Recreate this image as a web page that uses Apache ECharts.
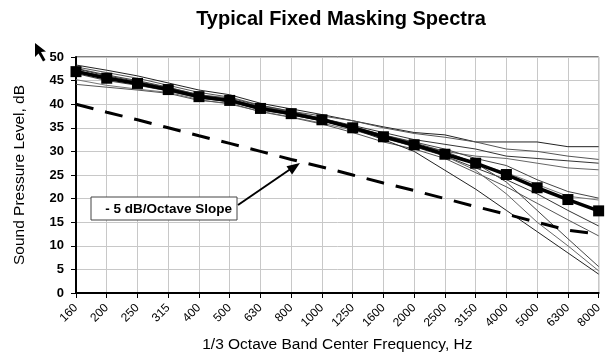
<!DOCTYPE html>
<html>
<head>
<meta charset="utf-8">
<script src="https://cdn.jsdelivr.net/npm/echarts@6/dist/echarts.min.js"></script>
<style>
  html, body { margin: 0; padding: 0; background: #fff; }
  #chart { width: 605px; height: 358px; }
</style>
</head>
<body>
<div id="chart"></div>
<script>
// 1/3 octave band centre frequencies
var bands = ["160", "200", "250", "315", "400", "500", "630", "800", "1000", "1250",
  "1600", "2000", "2500", "3150", "4000", "5000", "6300", "8000"];

// typical (mean) masking spectrum, with squares
var typical = [46.9, 45.5, 44.4, 43.1, 41.6, 40.8, 39.1, 38.0, 36.7, 35.0, 33.1, 31.4, 29.4, 27.5, 25.1, 22.3, 19.8, 17.4];

// -5 dB/octave reference slope
var slope = [40, 38.3, 36.7, 35, 33.3, 31.7, 30, 28.3, 26.7, 25, 23.3, 21.7, 20, 18.3, 16.7, 15, 13.3, 12.5];

// individual masking spectra (thin lines)
var s1 = [48.3, 47.2, 46.0, 44.5, 43.0, 42.0, 40.2, 39.0, 37.8, 36.5, 35.2, 34.0, 33.5, 32.0, 32.0, 32.0, 31.0, 31.0];
var s2 = [47.9, 46.7, 45.5, 44.0, 42.5, 41.5, 39.8, 38.5, 37.5, 36.5, 35.0, 33.8, 33.0, 32.0, 30.5, 30.0, 29.0, 28.3];
var s3 = [47.5, 46.0, 44.8, 43.5, 42.0, 41.0, 39.5, 38.3, 37.0, 35.5, 34.0, 32.5, 31.5, 30.5, 29.0, 28.5, 28.0, 27.5];
var s4 = [47.0, 45.5, 44.3, 43.0, 41.5, 40.5, 39.0, 37.8, 36.5, 35.0, 33.0, 31.5, 30.0, 29.0, 28.5, 27.5, 26.5, 26.1];
var s5 = [46.5, 45.0, 44.0, 42.8, 41.3, 40.5, 38.8, 37.7, 36.5, 35.0, 33.5, 32.0, 30.5, 28.5, 27.0, 24.0, 21.5, 20.1];
var s6 = [45.2, 44.0, 43.2, 42.5, 41.0, 40.0, 38.5, 37.3, 36.0, 34.5, 32.8, 31.0, 29.5, 27.5, 25.5, 23.0, 20.5, 19.7];
var s7 = [47.2, 45.7, 44.5, 43.2, 41.8, 41.0, 39.3, 38.2, 36.8, 35.0, 33.0, 31.0, 29.0, 26.5, 24.0, 21.0, 17.5, 14.2];
var s8 = [44.2, 43.6, 43.0, 42.3, 40.8, 40.2, 38.4, 37.2, 35.8, 34.0, 32.0, 30.5, 28.5, 25.5, 22.5, 19.0, 15.5, 12.1];
var s9 = [47.1, 45.8, 44.6, 43.3, 41.8, 41.0, 39.2, 38.0, 36.5, 34.8, 32.5, 30.0, 26.0, 22.0, 17.5, 13.0, 8.5, 4.0];
var s10 = [46.8, 45.5, 44.4, 43.0, 41.8, 41.0, 39.4, 38.2, 36.8, 35.0, 33.0, 31.5, 29.0, 26.0, 21.0, 15.0, 10.0, 4.7];
var s11 = [47.6, 46.2, 45.0, 43.6, 42.0, 41.3, 39.7, 38.5, 37.0, 35.3, 33.5, 31.8, 30.0, 27.5, 23.5, 17.5, 11.5, 5.6];

var spectra = [s1, s2, s3, s4, s5, s6, s7, s8, s9, s10, s11];
var thinColors = ["#222", "#555", "#333", "#666", "#444", "#777", "#333", "#555", "#222", "#666", "#444"];

var yTicks = { min: 0, max: 50, step: 5 };

var font = "Liberation Sans, Arial, sans-serif";
var myChart = echarts.init(document.getElementById("chart"));

var series = spectra.map(function (d, i) {
  return {
    type: "line",
    data: d,
    showSymbol: false,
    silent: true,
    lineStyle: { color: thinColors[i], width: 1 },
    z: 2,
  };
});
series.push({
  type: "line",
  name: "slope",
  data: slope,
  showSymbol: false,
  lineStyle: { color: "#000", width: 3, type: [18, 12] },
  z: 3,
});
series.push({
  type: "line",
  name: "typical",
  data: typical,
  symbol: "rect",
  symbolSize: 11,
  itemStyle: { color: "#000" },
  lineStyle: { color: "#000", width: 3.5 },
  z: 4,
});

var option = {
  animation: false,
  backgroundColor: "#fff",
  textStyle: { fontFamily: font },
  title: {
    text: "Typical Fixed Masking Spectra",
    left: 336,
    textAlign: "center",
    top: 4,
    textStyle: { fontSize: 20, fontWeight: "bold", color: "#000", fontFamily: font },
  },
  grid: {
    left: 76,
    right: 2,
    top: 57,
    bottom: 65,
    show: true,
    borderColor: "#000",
    borderWidth: 1,
  },
  xAxis: {
    type: "category",
    data: bands,
    boundaryGap: false,
    name: "1/3 Octave Band Center Frequency, Hz",
    nameLocation: "middle",
    nameGap: 44,
    nameTextStyle: { fontSize: 15.5, color: "#000", fontFamily: font },
    axisLine: { lineStyle: { color: "#000", width: 2 } },
    axisTick: { show: true, length: 5, lineStyle: { color: "#000" } },
    axisLabel: { rotate: 45, fontSize: 12, color: "#000", margin: 13, interval: 0, fontFamily: font },
    splitLine: { show: true, lineStyle: { color: "#c8c8c8", width: 1 } },
  },
  yAxis: {
    type: "value",
    min: yTicks.min,
    max: yTicks.max,
    interval: yTicks.step,
    name: "Sound Pressure Level, dB",
    nameLocation: "middle",
    nameRotate: 90,
    nameGap: 48,
    nameTextStyle: { fontSize: 15.5, color: "#000", fontFamily: font },
    axisLine: { show: true, lineStyle: { color: "#000", width: 2 } },
    axisTick: { show: true, length: 5, lineStyle: { color: "#000" } },
    axisLabel: { fontSize: 13, fontWeight: "bold", color: "#000", margin: 12, fontFamily: font },
    splitLine: { show: true, lineStyle: { color: "#c8c8c8", width: 1 } },
  },
  graphic: [
    // annotation box
    {
      type: "rect",
      shape: { x: 91, y: 197, width: 146, height: 23 },
      style: { fill: "#fff", stroke: "#444", lineWidth: 1 },
      z: 10,
    },
    {
      type: "text",
      x: 232,
      y: 209,
      style: {
        text: "- 5 dB/Octave Slope",
        fontSize: 13.5,
        fontWeight: "bold",
        fontFamily: font,
        fill: "#000",
        align: "right",
        verticalAlign: "middle",
      },
      z: 11,
    },
    // arrow to slope line
    {
      type: "line",
      shape: { x1: 238, y1: 205, x2: 292, y2: 168 },
      style: { stroke: "#000", lineWidth: 2 },
      z: 10,
    },
    {
      type: "polygon",
      shape: { points: [[300, 163], [292.1, 174.4], [286.5, 166.2]] },
      style: { fill: "#000" },
      z: 10,
    },
    // mouse pointer left in the screenshot
    {
      type: "polygon",
      shape: { points: [[35, 43], [35, 57], [38.5, 53.5], [43, 61.5], [45.5, 60], [41, 52], [46, 51.5]] },
      style: { fill: "#000" },
      z: 10,
    },
  ],
  series: series,
};
myChart.setOption(option);
</script>
</body>
</html>
